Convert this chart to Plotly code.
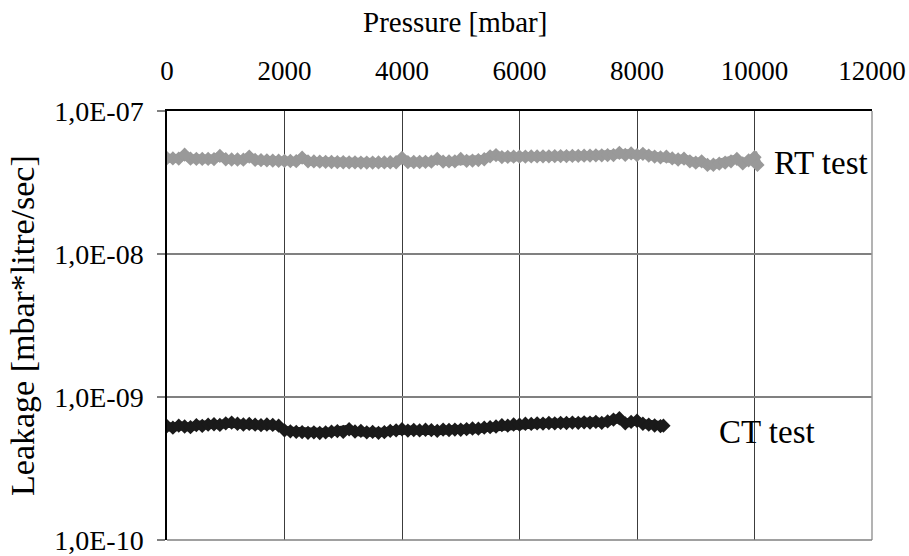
import plotly.graph_objects as go

# Room-temperature test: pressure [mbar] and leakage [mbar*litre/sec]
rt_pressure = [0, 100, 200, 300, 400, 500, 600, 700, 800, 900,
               1000, 1100, 1200, 1300, 1400, 1500, 1600, 1700, 1800, 1900,
               2000, 2100, 2200, 2300, 2400, 2500, 2600, 2700, 2800, 2900,
               3000, 3100, 3200, 3300, 3400, 3500, 3600, 3700, 3800, 3900,
               4000, 4100, 4200, 4300, 4400, 4500, 4600, 4700, 4800, 4900,
               5000, 5100, 5200, 5300, 5400, 5500, 5600, 5700, 5800, 5900,
               6000, 6100, 6200, 6300, 6400, 6500, 6600, 6700, 6800, 6900,
               7000, 7100, 7200, 7300, 7400, 7500, 7600, 7700, 7800, 7900,
               8000, 8100, 8200, 8300, 8400, 8500, 8600, 8700, 8800, 8900,
               9000, 9100, 9200, 9300, 9400, 9500, 9600, 9700, 9800, 9900,
               10000, 10050]
rt_leakage = [4.68e-8, 4.66e-8, 4.65e-8, 4.95e-8, 4.64e-8, 4.63e-8, 4.62e-8, 4.62e-8, 4.61e-8, 4.85e-8,
              4.60e-8, 4.58e-8, 4.58e-8, 4.57e-8, 4.80e-8, 4.55e-8, 4.53e-8, 4.52e-8, 4.50e-8, 4.49e-8,
              4.48e-8, 4.47e-8, 4.46e-8, 4.72e-8, 4.45e-8, 4.44e-8, 4.42e-8, 4.41e-8, 4.40e-8, 4.39e-8,
              4.38e-8, 4.37e-8, 4.37e-8, 4.36e-8, 4.36e-8, 4.36e-8, 4.37e-8, 4.37e-8, 4.38e-8, 4.38e-8,
              4.70e-8, 4.39e-8, 4.40e-8, 4.40e-8, 4.41e-8, 4.42e-8, 4.62e-8, 4.43e-8, 4.44e-8, 4.45e-8,
              4.62e-8, 4.48e-8, 4.50e-8, 4.54e-8, 4.60e-8, 4.82e-8, 4.92e-8, 4.76e-8, 4.78e-8, 4.79e-8,
              4.80e-8, 4.80e-8, 4.81e-8, 4.81e-8, 4.82e-8, 4.82e-8, 4.83e-8, 4.84e-8, 4.84e-8, 4.85e-8,
              4.86e-8, 4.87e-8, 4.88e-8, 4.89e-8, 4.90e-8, 4.91e-8, 4.92e-8, 5.10e-8, 4.93e-8, 5.05e-8,
              4.92e-8, 5.02e-8, 4.88e-8, 4.80e-8, 4.74e-8, 4.80e-8, 4.66e-8, 4.58e-8, 4.64e-8, 4.45e-8,
              4.35e-8, 4.45e-8, 4.20e-8, 4.21e-8, 4.28e-8, 4.35e-8, 4.45e-8, 4.62e-8, 4.30e-8, 4.52e-8,
              4.75e-8, 4.20e-8]

# Cold test: pressure [mbar] and leakage [mbar*litre/sec]
ct_pressure = [0, 100, 200, 300, 400, 500, 600, 700, 800, 900,
               1000, 1100, 1200, 1300, 1400, 1500, 1600, 1700, 1800, 1900,
               2000, 2100, 2200, 2300, 2400, 2500, 2600, 2700, 2800, 2900,
               3000, 3100, 3200, 3300, 3400, 3500, 3600, 3700, 3800, 3900,
               4000, 4100, 4200, 4300, 4400, 4500, 4600, 4700, 4800, 4900,
               5000, 5100, 5200, 5300, 5400, 5500, 5600, 5700, 5800, 5900,
               6000, 6100, 6200, 6300, 6400, 6500, 6600, 6700, 6800, 6900,
               7000, 7100, 7200, 7300, 7400, 7500, 7600, 7700, 7800, 7900,
               8000, 8100, 8200, 8300, 8400, 8450]
ct_leakage = [6.25e-10, 6.10e-10, 6.30e-10, 6.22e-10, 6.15e-10, 6.35e-10, 6.28e-10, 6.40e-10, 6.45e-10, 6.38e-10,
              6.55e-10, 6.62e-10, 6.50e-10, 6.42e-10, 6.48e-10, 6.40e-10, 6.35e-10, 6.42e-10, 6.38e-10, 6.30e-10,
              5.85e-10, 5.75e-10, 5.70e-10, 5.68e-10, 5.62e-10, 5.66e-10, 5.60e-10, 5.65e-10, 5.72e-10, 5.78e-10,
              5.70e-10, 5.95e-10, 5.74e-10, 5.80e-10, 5.66e-10, 5.70e-10, 5.62e-10, 5.68e-10, 5.80e-10, 5.85e-10,
              5.95e-10, 5.82e-10, 5.88e-10, 5.84e-10, 5.90e-10, 5.86e-10, 5.80e-10, 5.92e-10, 5.88e-10, 5.92e-10,
              5.90e-10, 5.96e-10, 6.02e-10, 6.00e-10, 6.10e-10, 6.15e-10, 6.22e-10, 6.35e-10, 6.30e-10, 6.42e-10,
              6.40e-10, 6.50e-10, 6.48e-10, 6.55e-10, 6.52e-10, 6.58e-10, 6.55e-10, 6.60e-10, 6.58e-10, 6.62e-10,
              6.60e-10, 6.65e-10, 6.62e-10, 6.70e-10, 6.60e-10, 6.75e-10, 6.95e-10, 7.10e-10, 6.55e-10, 6.70e-10,
              6.82e-10, 6.50e-10, 6.40e-10, 6.32e-10, 6.25e-10, 6.30e-10]

x_ticks = [0, 2000, 4000, 6000, 8000, 10000, 12000]
x_tick_text = ["0", "2000", "4000", "6000", "8000", "10000", "12000"]
y_ticks = [1e-10, 1e-9, 1e-8, 1e-7]
y_tick_text = ["1,0E-10", "1,0E-09", "1,0E-08", "1,0E-07"]

FONT = "Times New Roman, Liberation Serif, Tinos, DejaVu Serif, Noto Serif, serif"

fig = go.Figure()
fig.add_trace(go.Scatter(
    x=rt_pressure, y=rt_leakage, mode="lines+markers", name="RT test",
    line=dict(color="#999999", width=9),
    marker=dict(symbol="diamond", size=11, color="#999999"),
))
fig.add_trace(go.Scatter(
    x=ct_pressure, y=ct_leakage, mode="lines+markers", name="CT test",
    line=dict(color="#1a1a1a", width=9),
    marker=dict(symbol="diamond", size=11, color="#1a1a1a"),
))

fig.update_layout(
    width=909, height=556,
    margin=dict(l=167, r=37, t=111, b=16),
    paper_bgcolor="white", plot_bgcolor="white",
    showlegend=False,
    font=dict(family=FONT, color="black", size=27),
    xaxis=dict(
        side="top", range=[0, 12000], tickvals=x_ticks, ticktext=x_tick_text,
        ticks="", ticklabelstandoff=18, automargin=False,
        showline=True, linecolor="black", linewidth=1.5,
        showgrid=True, gridcolor="#3c3c3c", gridwidth=1,
        zeroline=False, tickfont=dict(family=FONT, size=27),
    ),
    yaxis=dict(
        type="log", range=[-10, -7], tickvals=y_ticks, ticktext=y_tick_text,
        ticks="outside", ticklen=8, tickcolor="#808080", tickwidth=1.5,
        ticklabelstandoff=8, automargin=False, ticklabeloverflow="allow",
        showline=True, linecolor="black", linewidth=1.5,
        showgrid=True, gridcolor="#808080", gridwidth=1.5,
        zeroline=False, tickfont=dict(family=FONT, size=28),
    ),
    shapes=[
        dict(type="line", xref="paper", yref="paper", x0=1, x1=1, y0=0, y1=1,
             line=dict(color="#9a9a9a", width=1.5), layer="above"),
        dict(type="line", xref="paper", yref="paper", x0=0, x1=1, y0=0, y1=0,
             line=dict(color="#808080", width=1.5), layer="above"),
    ],
    annotations=[
        dict(text="Pressure [mbar]", xref="paper", yref="paper",
             x=0.4085, y=1.2075, xanchor="center", yanchor="middle",
             showarrow=False, font=dict(family=FONT, size=29)),
        dict(text="Leakage [mbar*litre/sec]", xref="paper", yref="paper",
             x=-0.205, y=0.5, xanchor="center", yanchor="middle", textangle=-90,
             showarrow=False, font=dict(family=FONT, size=34)),
        dict(text="RT test", xref="paper", yref="paper",
             x=0.858, y=0.879, xanchor="left", yanchor="middle",
             showarrow=False, font=dict(family=FONT, size=33)),
        dict(text="CT test", xref="paper", yref="paper",
             x=0.780, y=0.252, xanchor="left", yanchor="middle",
             showarrow=False, font=dict(family=FONT, size=33)),
    ],
)

fig.write_html("out.html")
